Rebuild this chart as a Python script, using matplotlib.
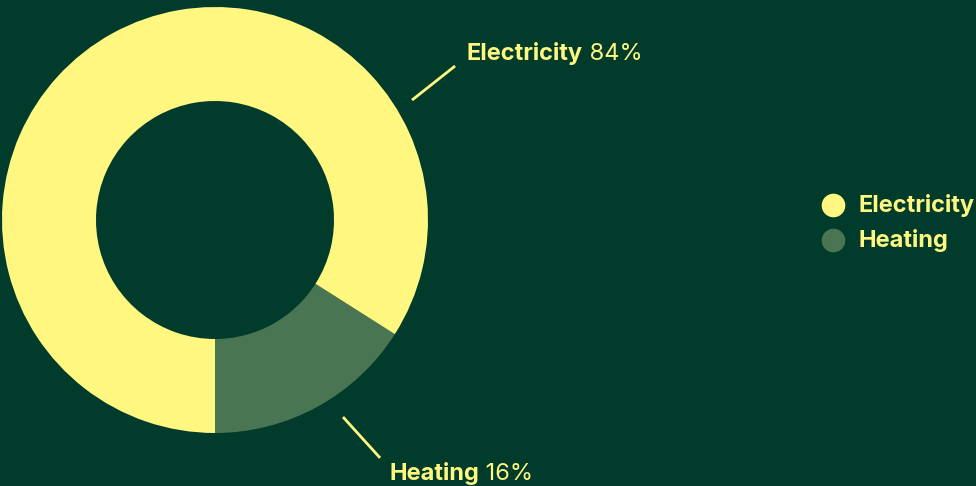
import matplotlib
matplotlib.use("Agg")
import matplotlib.pyplot as plt
from matplotlib.lines import Line2D

categories = ["Electricity", "Heating"]
values = [84, 16]
colors = {"Electricity": "#fff780", "Heating": "#4a7552"}
bg = "#003b2c"
txt = "#fff780"

plt.rcParams['font.family'] = ['Inter', 'DejaVu Sans']

W, H = 976, 486
fig = plt.figure(figsize=(W/100, H/100), dpi=100, facecolor=bg)
cx, cy, r = 215, 220, 213
ax = fig.add_axes([(cx-r)/W, (H-cy-r)/H, 2*r/W, 2*r/H])
ax.set_facecolor(bg)
ax.axis('off')

# draw heating first starting at bottom, counterclockwise
order = ["Heating", "Electricity"]
vals = [values[categories.index(c)] for c in order]
ax.pie(vals, colors=[colors[c] for c in order], startangle=-90, counterclock=True,
       radius=1, wedgeprops=dict(width=1-119/213, linewidth=0))
ax.set_xlim(-1, 1)
ax.set_ylim(-1, 1)
ax.set_aspect('equal')

fs = 17
labels = {
    "Electricity": dict(line=((0.925, 0.563), (1.127, 0.723)), pos=(1.183, 0.784)),
    "Heating": dict(line=((0.601, -0.925), (0.775, -1.117)), pos=(0.817, -1.188)),
}
for c, v in zip(categories, values):
    L = labels[c]
    (x0, y0), (x1, y1) = L["line"]
    ax.plot([x0, x1], [y0, y1], color=txt, lw=2, clip_on=False, solid_capstyle='butt')
    t = ax.text(L["pos"][0], L["pos"][1], c, color=txt, fontsize=fs, fontweight='bold',
                ha='left', va='center', clip_on=False)
    ax.annotate(f" {v}%", xy=(1, 0), xycoords=t, va='bottom', ha='left',
                color=txt, fontsize=fs, fontweight='normal', annotation_clip=False)

# legend
for i, c in enumerate(categories):
    y = (H - (205 + 35*i)) / H
    fig.add_artist(Line2D([833/W], [y], marker='o', markersize=16, color=colors[c],
                          linestyle='none', transform=fig.transFigure))
    fig.text(859/W, y, c, color=txt, fontsize=fs, fontweight='bold', ha='left', va='center')

fig.savefig("out.png", dpi=100, facecolor=bg)
